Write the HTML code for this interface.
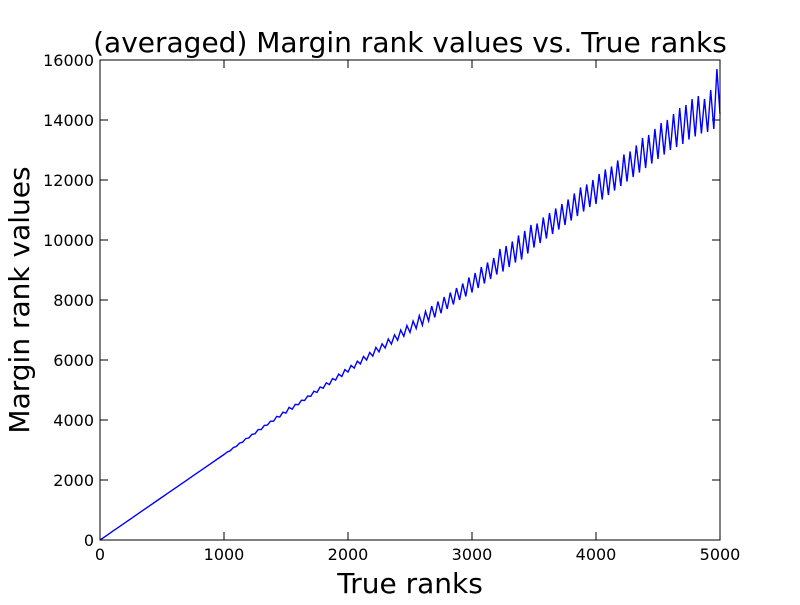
<!DOCTYPE html>
<html><head><meta charset="utf-8"><style>
body{margin:0;background:#fff;}
svg text{font-family:"DejaVu Sans","Liberation Sans",sans-serif;}
</style></head><body>
<svg id="chart" width="800" height="600" viewBox="0 0 800 600">
<rect width="800" height="600" fill="#fff"/>
<text x="410" y="52" font-size="28" text-anchor="middle">(averaged) Margin rank values vs. True ranks</text>
<text x="410" y="593" font-size="28" text-anchor="middle">True ranks</text>
<text x="0" y="0" font-size="28" text-anchor="middle" transform="translate(29,300) rotate(-90)">Margin rank values</text>
<g id="ticks"></g>
<polyline id="series" fill="none" stroke="#0000ff" stroke-width="1.4"/>
<rect x="100" y="60" width="620" height="480" fill="none" stroke="#000" stroke-width="1"/>
</svg>
<script>
const xTicks=[0,1000,2000,3000,4000,5000];
const yTicks=[0,2000,4000,6000,8000,10000,12000,14000,16000];
const ranks=[];for(let r=0;r<1000;r+=50)ranks.push(r);for(let r=1000;r<=5000;r+=25)ranks.push(r);
const values=[0,140,285,428,570,712,855,998,1140,1283,1425,1568,1710,1853,1995,2138,2280,2423,2565,2708,
2850,2930,2975,3080,3120,3230,3260,3380,3400,3520,3540,3680,3680,3820,3830,3960,3960,4120,4100,4260,
4230,4420,4360,4520,4510,4660,4650,4800,4790,4960,4920,5100,5060,5240,5180,5380,5330,5530,5450,5680,
5600,5820,5730,5960,5870,6120,6000,6250,6130,6420,6270,6540,6400,6700,6530,6840,6660,7000,6790,7150,
6920,7300,7050,7480,7160,7620,7300,7800,7420,7950,7560,8100,7700,8250,7850,8400,8000,8550,8120,8750,
8250,8900,8400,9100,8550,9250,8700,9400,8850,9700,8950,9800,9100,9950,9250,10150,9350,10300,9550,10500,
9750,10550,9900,10750,10050,10900,10200,11050,10350,11200,10500,11350,10650,11550,10800,11750,10950,11850,11100,12000,
11200,12200,11350,12350,11500,12450,11650,12650,11800,12850,11950,12950,12100,13150,12250,13400,12400,13500,12550,13700,
12700,13900,12850,14000,13000,14200,13100,14400,13200,14500,13350,14700,13450,14800,13550,14700,13600,15000,13700,15700,14200];
const X=v=>100+v/5000*620;
const Y=v=>540-v/16000*480;
const ns="http://www.w3.org/2000/svg";
const g=document.getElementById('ticks');
function line(x1,y1,x2,y2){const l=document.createElementNS(ns,'line');l.setAttribute('x1',x1);l.setAttribute('y1',y1);l.setAttribute('x2',x2);l.setAttribute('y2',y2);l.setAttribute('stroke','#000');


g.appendChild(l);}
function txt(x,y,s,anchor){const t=document.createElementNS(ns,'text');t.setAttribute('x',x);t.setAttribute('y',y);t.setAttribute('font-size','16');t.setAttribute('text-anchor',anchor);t.textContent=s;


g.appendChild(t);}
xTicks.forEach(v=>{const x=X(v);line(x,540,x,532);line(x,60,x,68);txt(x,560,String(v),'middle');});
yTicks.forEach(v=>{const y=Y(v);line(100,y,108,y);line(720,y,712,y);txt(94,y+6,String(v),'end');});
const n=Math.min(ranks.length,values.length);
document.getElementById('series').setAttribute('points',ranks.slice(0,n).map((r,i)=>X(r)+','+Y(values[i])).join(' '));
</script>
</body></html>
